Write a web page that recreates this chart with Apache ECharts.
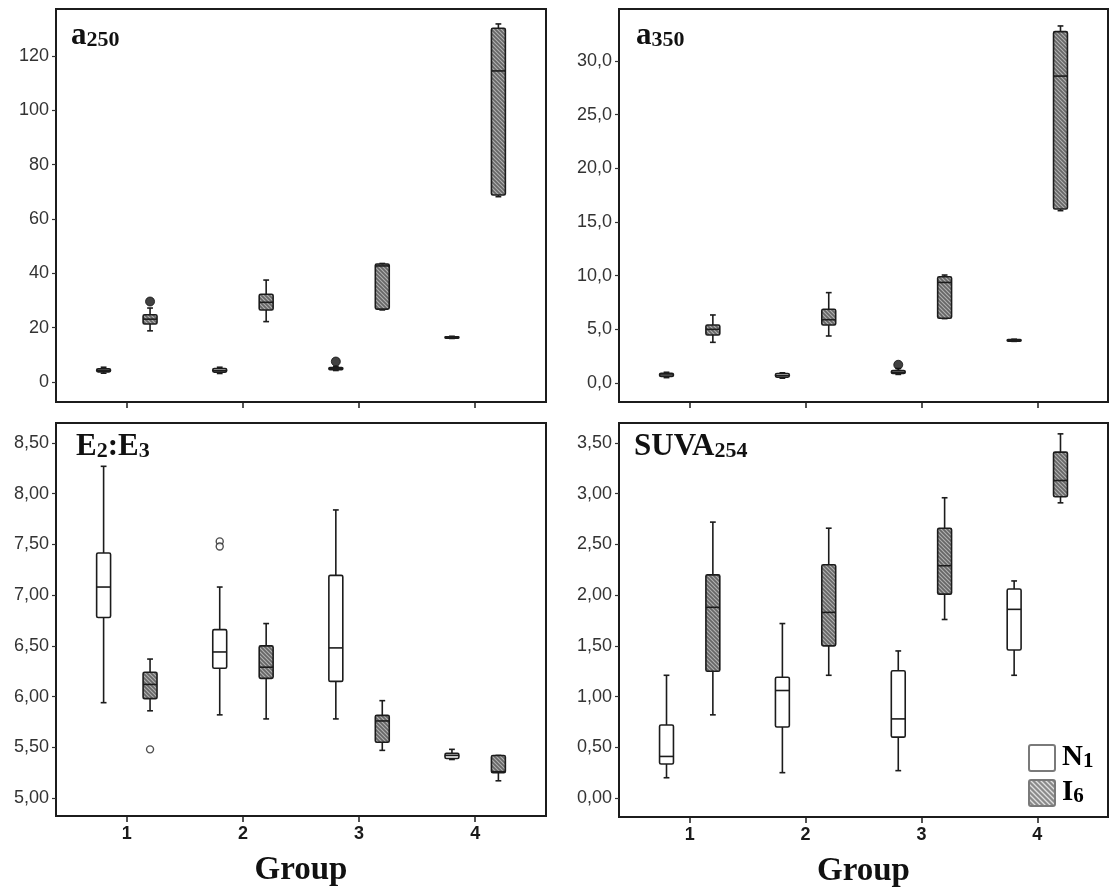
<!DOCTYPE html>
<html><head><meta charset="utf-8">
<script src="https://cdn.jsdelivr.net/npm/echarts@6/dist/echarts.min.js"></script>
<style>html,body{margin:0;padding:0;background:#fff}#c{width:1112px;height:890px}</style>
</head><body><div id="c"></div>
<script>
// ---------- DATA ----------
const groups = [1, 2, 3, 4];
const yTicksA250 = [0, 20, 40, 60, 80, 100, 120];
const yTicksA350 = [0, 5, 10, 15, 20, 25, 30];
const yTicksE2E3 = [5, 5.5, 6, 6.5, 7, 7.5, 8, 8.5];
const yTicksSUVA = [0, 0.5, 1, 1.5, 2, 2.5, 3, 3.5];

// each row: [min, q1, median, q3, max] for groups 1..4
const a250N1 = [[3.2, 3.7, 4.2, 4.8, 5.4], [3.1, 3.6, 4.1, 4.9, 5.4], [4.2, 4.5, 4.9, 5.3, 5.7], [16.0, 16.1, 16.4, 16.6, 16.8]];
const a250I6 = [[18.8, 21.3, 23.1, 24.7, 27.2], [22.2, 26.5, 29.3, 32.3, 37.5], [26.5, 26.8, 42.7, 43.4, 43.6], [68.2, 68.8, 114.5, 130.2, 131.8]];
const a250N1Out = [[3, 7.5]];
const a250I6Out = [[1, 29.6]];

const a350N1 = [[0.5, 0.6, 0.75, 0.9, 1.0], [0.45, 0.55, 0.7, 0.88, 0.95], [0.8, 0.88, 1.0, 1.15, 1.35], [3.88, 3.9, 3.98, 4.05, 4.08]];
const a350I6 = [[3.79, 4.47, 5.0, 5.4, 6.34], [4.38, 5.4, 5.9, 6.87, 8.42], [6.0, 6.03, 9.37, 9.9, 10.06], [16.06, 16.22, 28.6, 32.74, 33.27]];
const a350N1Out = [[3, 1.7]];
const a350I6Out = [];

const e2e3N1 = [[5.94, 6.78, 7.08, 7.415, 8.27], [5.82, 6.28, 6.44, 6.66, 7.08], [5.78, 6.15, 6.48, 7.195, 7.84], [5.38, 5.39, 5.42, 5.44, 5.48]];
const e2e3I6 = [[5.86, 5.98, 6.12, 6.24, 6.37], [5.78, 6.18, 6.29, 6.50, 6.72], [5.47, 5.55, 5.76, 5.815, 5.96], [5.17, 5.25, 5.26, 5.42, 5.42]];
const e2e3N1Out = [[2, 7.53], [2, 7.48]];
const e2e3I6Out = [[1, 5.48]];

const suvaN1 = [[0.20, 0.335, 0.41, 0.72, 1.21], [0.25, 0.70, 1.06, 1.19, 1.72], [0.27, 0.60, 0.78, 1.255, 1.45], [1.21, 1.46, 1.86, 2.06, 2.14]];
const suvaI6 = [[0.82, 1.25, 1.88, 2.20, 2.72], [1.21, 1.50, 1.83, 2.30, 2.66], [1.76, 2.01, 2.29, 2.66, 2.96], [2.91, 2.97, 3.13, 3.41, 3.59]];
const suvaN1Out = [];
const suvaI6Out = [];

// ---------- STYLE HELPERS ----------
function makeHatch(bg, fg, size, lw) {
  const c = document.createElement('canvas');
  c.width = size; c.height = size;
  const ctx = c.getContext('2d');
  ctx.fillStyle = bg; ctx.fillRect(0, 0, size, size);
  ctx.strokeStyle = fg; ctx.lineWidth = lw;
  ctx.beginPath();
  ctx.moveTo(-1, -1); ctx.lineTo(size + 1, size + 1);
  ctx.moveTo(-1, size - 1); ctx.lineTo(1, size + 1);
  ctx.moveTo(size - 1, -1); ctx.lineTo(size + 1, 1);
  ctx.stroke();
  return c;
}
const hatchBox = { image: makeHatch('#666666', '#b2b2b2', 4, 1.1), repeat: 'repeat' };
const hatchLegend = { image: makeHatch('#8a8a8a', '#e0e0e0', 5, 1.3), repeat: 'repeat' };

const INK = '#1c1c1c';
const BOX_W = 0.12, CAP_W = 0.05, OFFSET = 0.2;

function boxRender(offset, fill) {
  return function (params, api) {
    const g = api.value(0) + offset;
    const pMin = api.coord([g, api.value(1)]);
    const pQ1 = api.coord([g, api.value(2)]);
    const pMd = api.coord([g, api.value(3)]);
    const pQ3 = api.coord([g, api.value(4)]);
    const pMax = api.coord([g, api.value(5)]);
    const hw = api.size([BOX_W, 0])[0] / 2;
    const cw = api.size([CAP_W, 0])[0] / 2;
    const x = pMin[0];
    const ls = { stroke: INK, lineWidth: 1.6 };
    return {
      type: 'group', children: [
        { type: 'line', shape: { x1: x, y1: pMax[1], x2: x, y2: pQ3[1] }, style: ls },
        { type: 'line', shape: { x1: x, y1: pQ1[1], x2: x, y2: pMin[1] }, style: ls },
        { type: 'line', shape: { x1: x - cw, y1: pMax[1], x2: x + cw, y2: pMax[1] }, style: ls },
        { type: 'line', shape: { x1: x - cw, y1: pMin[1], x2: x + cw, y2: pMin[1] }, style: ls },
        { type: 'rect', shape: { x: x - hw, y: pQ3[1], width: 2 * hw, height: Math.max(pQ1[1] - pQ3[1], 1), r: 1.5 },
          style: { fill: fill, stroke: INK, lineWidth: 1.6 } },
        { type: 'line', shape: { x1: x - hw, y1: pMd[1], x2: x + hw, y2: pMd[1] }, style: ls }
      ]
    };
  };
}
function toRows(stats) { return stats.map((s, i) => [groups[i]].concat(s)); }
function outPts(arr, offset) { return arr.map(p => [p[0] + offset, p[1]]); }

const panels = [
  { grid: { left: 56, top: 9, width: 490, height: 393 }, ymin: -7.4, ymax: 137.3, ticks: yTicksA250, dec: 0,
    n1: a250N1, i6: a250I6, n1o: a250N1Out, i6o: a250I6Out, filledOut: true, labels: false },
  { grid: { left: 619, top: 9, width: 489, height: 393 }, ymin: -1.77, ymax: 34.85, ticks: yTicksA350, dec: 1,
    n1: a350N1, i6: a350I6, n1o: a350N1Out, i6o: a350I6Out, filledOut: true, labels: false },
  { grid: { left: 56, top: 423, width: 490, height: 393 }, ymin: 4.823, ymax: 8.697, ticks: yTicksE2E3, dec: 2,
    n1: e2e3N1, i6: e2e3I6, n1o: e2e3N1Out, i6o: e2e3I6Out, filledOut: false, labels: true },
  { grid: { left: 619, top: 423, width: 489, height: 394 }, ymin: -0.187, ymax: 3.697, ticks: yTicksSUVA, dec: 2,
    n1: suvaN1, i6: suvaI6, n1o: suvaN1Out, i6o: suvaI6Out, filledOut: false, labels: true }
];

const grid = [], xAxis = [], yAxis = [], series = [];
panels.forEach((p, i) => {
  grid.push(Object.assign({ show: true, borderColor: INK, borderWidth: 2, backgroundColor: '#fff' }, p.grid));
  xAxis.push({
    type: 'value', gridIndex: i, min: 0.39, max: 4.61,
    splitLine: { show: false },
    axisLine: { show: true, onZero: false, lineStyle: { color: INK, width: 2 } },
    axisTick: { show: true, customValues: groups, length: 6, lineStyle: { color: INK, width: 1.5 } },
    axisLabel: { show: p.labels, customValues: groups, margin: 9, fontSize: 18, fontWeight: 'bold',
      fontFamily: 'Liberation Sans, Arial', color: '#1a1a1a' },
    name: p.labels ? 'Group' : '', nameLocation: 'middle', nameGap: 38,
    nameTextStyle: { fontFamily: 'Liberation Serif, Times New Roman', fontWeight: 'bold', fontSize: 33, color: '#111' }
  });
  yAxis.push({
    type: 'value', gridIndex: i, min: p.ymin, max: p.ymax,
    splitLine: { show: false },
    axisLine: { show: true, onZero: false, lineStyle: { color: INK, width: 2 } },
    axisTick: { show: true, customValues: p.ticks, length: 4, lineStyle: { color: '#333', width: 1.2 } },
    axisLabel: { customValues: p.ticks, margin: 7, fontSize: 18, fontFamily: 'Liberation Sans, Arial', color: '#333',
      formatter: v => v.toFixed(p.dec).replace('.', ',') }
  });
  series.push({ type: 'custom', xAxisIndex: i, yAxisIndex: i, renderItem: boxRender(-OFFSET, '#fff'),
    encode: { x: 0, y: [1, 2, 3, 4, 5] }, data: toRows(p.n1), silent: true });
  series.push({ type: 'custom', xAxisIndex: i, yAxisIndex: i, renderItem: boxRender(OFFSET, hatchBox),
    encode: { x: 0, y: [1, 2, 3, 4, 5] }, data: toRows(p.i6), silent: true });
  const outStyle = p.filledOut
    ? { color: '#111', borderColor: '#111', borderWidth: 1 }
    : { color: '#fff', borderColor: '#222', borderWidth: 1.4 };
  series.push({ type: 'scatter', xAxisIndex: i, yAxisIndex: i, symbol: 'circle', symbolSize: p.filledOut ? 9 : 7,
    itemStyle: outStyle, data: outPts(p.n1o, -OFFSET).concat(outPts(p.i6o, OFFSET)), silent: true });
});

const big = { fontFamily: 'Liberation Serif, Times New Roman', fontWeight: 'bold', fontSize: 31, color: '#111', verticalAlign: 'bottom' };
const small = { fontFamily: 'Liberation Serif, Times New Roman', fontWeight: 'bold', fontSize: 22, color: '#111', verticalAlign: 'bottom' };
const rich = { b: big, s: small };
const title = [
  { left: 71, top: 20, padding: 0, text: '{b|a}{s|250}', textStyle: { rich } },
  { left: 636, top: 20, padding: 0, text: '{b|a}{s|350}', textStyle: { rich } },
  { left: 76, top: 431, padding: 0, text: '{b|E}{s|2}{b|:E}{s|3}', textStyle: { rich } },
  { left: 634, top: 431, padding: 0, text: '{b|SUVA}{s|254}', textStyle: { rich } }
];

const legendBig = Object.assign({}, big, { fontSize: 29 });
const legendSmall = Object.assign({}, small, { fontSize: 21 });
const graphic = [
  { type: 'rect', shape: { x: 1029, y: 745, width: 26, height: 26, r: 2 }, style: { fill: '#fff', stroke: '#7a7a7a', lineWidth: 2 } },
  { type: 'rect', shape: { x: 1029, y: 780, width: 26, height: 26, r: 2 }, style: { fill: hatchLegend, stroke: '#7a7a7a', lineWidth: 2 } },
  { type: 'text', x: 1062, y: 758, style: { text: '{b|N}{s|1}', verticalAlign: 'middle', rich: { b: legendBig, s: legendSmall } } },
  { type: 'text', x: 1062, y: 793, style: { text: '{b|I}{s|6}', verticalAlign: 'middle', rich: { b: legendBig, s: legendSmall } } }
];

const chart = echarts.init(document.getElementById('c'), null, { renderer: 'canvas' });
chart.setOption({ backgroundColor: '#fff', animation: false, title, grid, xAxis, yAxis, series, graphic });
</script></body></html>
